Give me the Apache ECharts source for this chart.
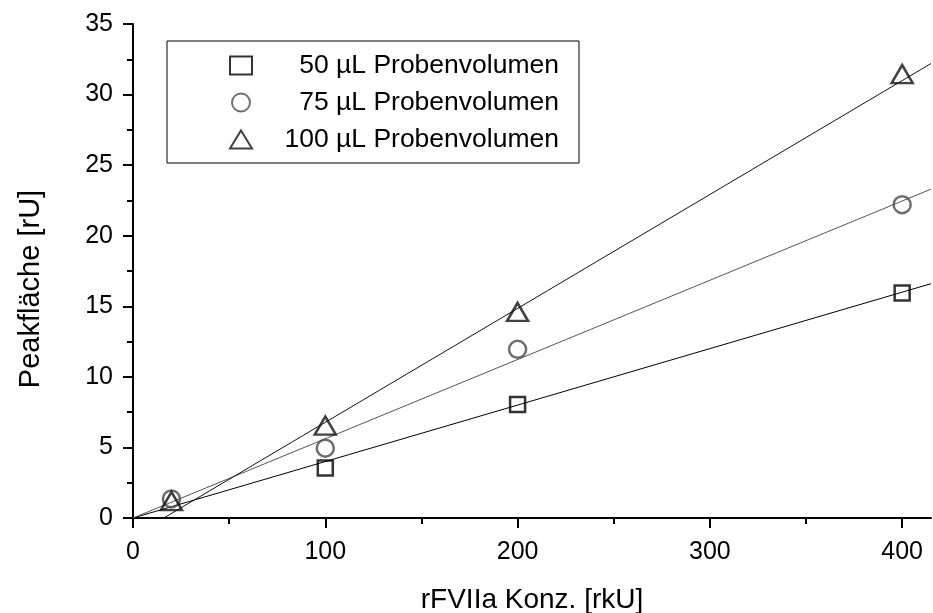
<!DOCTYPE html>
<html>
<head>
<meta charset="utf-8">
<script src="https://cdn.jsdelivr.net/npm/echarts@6/dist/echarts.min.js"></script>
<style>
  html, body { margin: 0; padding: 0; background: #fff; }
  #chart { width: 933px; height: 613px; }
</style>
</head>
<body>
<div id="chart"></div>
<script>
// Measured peak areas per sample volume
const conc50 = [100, 200, 400];
const area50 = [3.55, 8.05, 15.95];
const conc75 = [20, 100, 200, 400];
const area75 = [1.35, 4.95, 11.95, 22.2];
const conc100 = [20, 100, 200, 400];
const area100 = [1.2, 6.55, 14.6, 31.45];

// Regression line end points [x, y]
const fit50 = [[0, 0], [415, 16.6]];
const fit75 = [[0, 0], [415, 23.3]];
const fit100 = [[16, 0], [415, 32.2]];

const seriesNames = ['50 µL Probenvolumen', '75 µL Probenvolumen', '100 µL Probenvolumen'];
const xMajorTicks = [0, 100, 200, 300, 400];
const xMinorTicks = [50, 150, 250, 350];

const FONT = '"Liberation Sans", Arial, Helvetica, sans-serif';

function pairs(xs, ys) {
  return xs.map((x, i) => [x, ys[i]]);
}

const chart = echarts.init(document.getElementById('chart'), null, { renderer: 'canvas' });

const hollow = (stroke) => ({
  color: 'rgba(0,0,0,0)',
  borderColor: stroke,
  borderWidth: 2.5
});

chart.setOption({
  animation: false,
  backgroundColor: '#fff',
  textStyle: { fontFamily: FONT, color: '#000' },
  grid: { left: 133, right: 2, top: 24, bottom: 95, containLabel: false, outerBoundsMode: 'none' },
  legend: {
    orient: 'vertical',
    left: 167,
    top: 41,
    padding: [11, 20, 10, 62],
    itemGap: 10,
    itemWidth: 22,
    itemHeight: 18,
    itemTextGap: 5,
    borderColor: '#000',
    borderWidth: 1,
    data: seriesNames,
    formatter: (name) => '{t|' + name + '}',
    textStyle: {
      rich: {
        t: { width: 302, align: 'right', fontSize: 26.5, lineHeight: 26, fontFamily: FONT, color: '#000' }
      }
    }
  },
  xAxis: [
    {
      type: 'value',
      min: 0,
      max: 415,
      name: 'rFVIIa Konz. [rkU]',
      nameLocation: 'middle',
      nameGap: 68,
      nameTextStyle: { fontSize: 28, fontFamily: FONT, color: '#000' },
      axisLine: { show: true, onZero: false, lineStyle: { color: '#000', width: 2 } },
      axisTick: { show: true, inside: false, length: 10, customValues: xMajorTicks, lineStyle: { color: '#000', width: 2 } },
      axisLabel: { show: true, customValues: xMajorTicks, margin: 22, fontSize: 25, fontFamily: FONT, color: '#000' },
      splitLine: { show: false }
    },
    {
      type: 'value',
      min: 0,
      max: 415,
      position: 'bottom',
      axisLine: { show: false },
      axisTick: { show: true, inside: false, length: 6, customValues: xMinorTicks, lineStyle: { color: '#000', width: 2 } },
      axisLabel: { show: false },
      splitLine: { show: false }
    }
  ],
  yAxis: {
    type: 'value',
    min: 0,
    max: 35,
    interval: 5,
    name: 'Peakfläche [rU]',
    nameLocation: 'middle',
    nameGap: 88,
    nameTextStyle: { fontSize: 29, fontFamily: FONT, color: '#000', padding: [0, 36, 0, 0] },
    axisLine: { show: true, onZero: false, lineStyle: { color: '#000', width: 2 } },
    axisTick: { show: true, inside: false, length: 10, lineStyle: { color: '#000', width: 2 } },
    minorTick: { show: true, splitNumber: 2, length: 6, lineStyle: { color: '#000', width: 2 } },
    axisLabel: { margin: 20, fontSize: 25, fontFamily: FONT, color: '#000' },
    splitLine: { show: false }
  },
  series: [
    {
      type: 'line', data: fit50, symbol: 'none', silent: true, z: 1,
      lineStyle: { color: '#000', width: 1 }
    },
    {
      type: 'line', data: fit75, symbol: 'none', silent: true, z: 1,
      lineStyle: { color: '#555', width: 1 }
    },
    {
      type: 'line', data: fit100, symbol: 'none', silent: true, z: 1,
      lineStyle: { color: '#111', width: 1 }
    },
    {
      name: seriesNames[0], type: 'scatter', z: 3,
      symbol: 'rect', symbolSize: 15,
      itemStyle: hollow('#000'),
      data: pairs(conc50, area50)
    },
    {
      name: seriesNames[1], type: 'scatter', z: 3,
      symbol: 'circle', symbolSize: 17,
      itemStyle: hollow('#4a4a4a'),
      data: pairs(conc75, area75)
    },
    {
      name: seriesNames[2], type: 'scatter', z: 4,
      symbol: 'triangle', symbolSize: [21, 18],
      itemStyle: hollow('#111'),
      data: pairs(conc100, area100)
    }
  ]
});
</script>
</body>
</html>
